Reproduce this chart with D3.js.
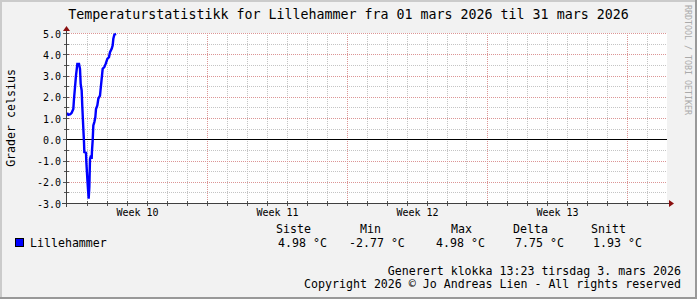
<!DOCTYPE html>
<html><head><meta charset="utf-8">
<script src="https://cdn.jsdelivr.net/npm/d3@7"></script>
<style>html,body{margin:0;padding:0;background:#f2f2f2;overflow:hidden}svg{display:block}</style>
</head><body><svg id="c" width="697" height="299"></svg>
<script>
// ---- data ----
const titleText = "Temperaturstatistikk for Lillehammer fra 01 mars 2026 til 31 mars 2026";
const yLabel = "Grader celsius";
const seriesName = "Lillehammer";
const hours = [0,1.6,4,5.6,7.6,8.4,9.6,10.8,12.4,14.4,15.6,16.4,17.6,18.4,19.6,20.4,20.8,22.8,23.2,24.4,25.2,26,26.8,27.6,28.8,29.6,30,30.8,31.6,32.8,34,34.8,36.4,37.6,39.6,40.4,41.6,42.8,44.8,46.4,48.4,50.4,51.6,53.6,54.8,55.6,56.8,58.8];
const temps = [1.27,1.17,1.2,1.27,1.45,1.93,2.47,3.02,3.57,3.57,3.34,2.63,2.32,1.53,0.51,-0.11,-0.58,-0.61,-1.05,-1.84,-2.31,-2.77,-2.23,-0.90,-0.74,-0.90,-0.51,-0.04,0.67,0.83,1.06,1.45,1.61,1.93,2.08,2.40,2.87,3.34,3.42,3.57,3.81,3.89,4.12,4.28,4.44,4.75,4.94,4.98];
const yMajor = [-3,-2,-1,0,1,2,3,4,5];
const yTickLabels = ["-3.0","-2.0","-1.0","0.0","1.0","2.0","3.0","4.0","5.0"];
const weekLabels = ["Week 10","Week 11","Week 12","Week 13"];
const weekBounds = ["2026-03-01","2026-03-08","2026-03-15","2026-03-22","2026-03-29"];
const statNames = ["Siste","Min","Max","Delta","Snitt"];
const statValues = [4.98,-2.77,4.98,7.75,1.93];
const footer1 = "Generert klokka 13:23 tirsdag 3. mars 2026";
const footer2 = "Copyright 2026 \u00a9 Jo Andreas Lien - All rights reserved";
const watermark = "RRDTOOL / TOBI OETIKER";

// ---- layout ----
const W = 697, H = 299;
const X0 = 67, X1 = 667, Y0 = 203.5, Y1 = 33.5;
const FONT = "'DejaVu Sans Mono', monospace";
const statHeadX = [276, 360, 451, 513, 591];
const statValX = [278, 349, 436, 515, 593];

const svg = d3.select("#c");
const start = new Date(Date.UTC(2026,2,1));
const end = new Date(Date.UTC(2026,2,31));
const x = d3.scaleUtc().domain([start, end]).range([X0, X1]);
const y = d3.scaleLinear().domain([-3, 5]).range([Y0, Y1]);
const px = v => Math.floor(v) + 0.5;

// background + frame
svg.append("rect").attr("width", W).attr("height", H).attr("fill", "#f2f2f2");
svg.append("rect").attr("x", 0).attr("y", 0).attr("width", W).attr("height", 2).attr("fill", "#cbcbcb");
svg.append("rect").attr("x", 0).attr("y", 0).attr("width", 2).attr("height", H).attr("fill", "#cbcbcb");
svg.append("rect").attr("x", W-2).attr("y", 0).attr("width", 2).attr("height", H).attr("fill", "#999");
svg.append("rect").attr("x", 0).attr("y", H-2).attr("width", W).attr("height", 2).attr("fill", "#999");

// plot area
svg.append("rect").attr("x", X0).attr("y", 33).attr("width", X1 - X0).attr("height", 170).attr("fill", "#fff");

const grid = svg.append("g").attr("fill", "none").attr("stroke-width", 1).attr("stroke-dasharray", "1,1");
const yMinor = d3.range(-2.5, 5, 1);
grid.selectAll(".hm").data(yMinor).join("line")
  .attr("x1", X0).attr("x2", X1).attr("y1", d => px(y(d))).attr("y2", d => px(y(d)))
  .attr("stroke", "#c4c4c4");
const days = d3.utcDay.range(d3.utcDay.offset(start, 1), end).filter(d => !weekBounds.includes(d3.utcFormat("%Y-%m-%d")(d)));
grid.selectAll(".vm").data(days).join("line")
  .attr("x1", d => px(x(d))).attr("x2", d => px(x(d))).attr("y1", 33).attr("y2", 203)
  .attr("stroke", "#c4c4c4");
grid.selectAll(".hM").data(yMajor.filter(d => d !== -3)).join("line")
  .attr("x1", X0).attr("x2", X1).attr("y1", d => px(y(d))).attr("y2", d => px(y(d)))
  .attr("stroke", "#dc9595");
const weekDates = weekBounds.slice(1).map(s => new Date(s + "T00:00:00Z"));
grid.selectAll(".vM").data(weekDates).join("line")
  .attr("x1", d => px(x(d))).attr("x2", d => px(x(d))).attr("y1", 33).attr("y2", 203)
  .attr("stroke", "#dc9595");

// small ticks on axes
const tk = svg.append("g").attr("stroke", "#555").attr("stroke-width", 1);
tk.selectAll(".ty").data(d3.range(-3, 5.01, 0.5)).join("line")
  .attr("x1", d => Number.isInteger(d) ? 63 : 64).attr("x2", 69)
  .attr("y1", d => px(y(d))).attr("y2", d => px(y(d)));
tk.selectAll(".tx").data(d3.utcDay.range(d3.utcDay.offset(start, 1), end)).join("line")
  .attr("x1", d => px(x(d))).attr("x2", d => px(x(d))).attr("y1", 201).attr("y2", 206);

// zero line
svg.append("line").attr("x1", X0).attr("x2", X1).attr("y1", px(y(0))).attr("y2", px(y(0)))
  .attr("stroke", "#000").attr("stroke-width", 1);

// data line
const data = hours.map((h, i) => ({ t: new Date(start.getTime() + h * 3600000), v: temps[i] }));
svg.append("path").datum(data)
  .attr("fill", "none").attr("stroke", "#0000ff").attr("stroke-width", 2.4).attr("stroke-linejoin", "miter")
  .attr("d", d3.line().x(d => x(d.t)).y(d => y(d.v)));

// axes lines + arrows
svg.append("line").attr("x1", 62).attr("x2", 670).attr("y1", 203.5).attr("y2", 203.5).attr("stroke", "#404040");
svg.append("line").attr("x1", 66.5).attr("x2", 66.5).attr("y1", 207).attr("y2", 30).attr("stroke", "#404040");
svg.append("path").attr("d", "M669,200 L674,203.5 L669,207 Z").attr("fill", "#8b1010");
svg.append("path").attr("d", "M63,31 L66.5,26 L70,31 Z").attr("fill", "#8b1010");

// y axis labels
const yAx = svg.append("g").attr("transform", `translate(${X0 - 6},0)`)
  .call(d3.axisLeft(y).tickValues(yMajor).tickFormat((d, i) => yTickLabels[i]).tickSize(0).tickPadding(0));
yAx.select(".domain").remove();
yAx.selectAll("text").attr("font-family", FONT).attr("font-size", 10).attr("fill", "#000").attr("dy", "0.36em");

// x axis labels
const mids = weekLabels.map((_, i) => new Date((new Date(weekBounds[i] + "T00:00:00Z").getTime() + new Date(weekBounds[i+1] + "T00:00:00Z").getTime()) / 2));
const xAx = svg.append("g").attr("transform", `translate(0,${216})`)
  .call(d3.axisBottom(x).tickValues(mids).tickFormat((d, i) => weekLabels[i]).tickSize(0).tickPadding(0));
xAx.select(".domain").remove();
xAx.selectAll("text").attr("font-family", FONT).attr("font-size", 10).attr("fill", "#000").attr("dy", 0);

// title
svg.append("text").attr("x", W / 2).attr("y", 19).attr("text-anchor", "middle")
  .attr("font-family", FONT).attr("font-size", 13.3).attr("fill", "#000").text(titleText);

// y label
svg.append("text").attr("transform", `translate(15,118) rotate(-90)`).attr("text-anchor", "middle")
  .attr("font-family", FONT).attr("font-size", 11.6).attr("fill", "#000").text(yLabel);

// watermark
svg.append("text").attr("transform", `translate(685,5) rotate(90)`).attr("text-anchor", "start")
  .attr("font-family", FONT).attr("font-size", 8.3).attr("fill", "#aaa").text(watermark);

// legend
svg.append("rect").attr("x", 15.5).attr("y", 238.5).attr("width", 8).attr("height", 8)
  .attr("fill", "#0000ff").attr("stroke", "#000").attr("stroke-width", 1);
svg.append("text").attr("x", 30).attr("y", 246.5).attr("font-family", FONT).attr("font-size", 11.6).text(seriesName);
svg.selectAll(".sh").data(statNames).join("text")
  .attr("x", (d, i) => statHeadX[i]).attr("y", 233).attr("font-family", FONT).attr("font-size", 11.6).text(d => d);
svg.selectAll(".sv").data(statValues).join("text")
  .attr("x", (d, i) => statValX[i]).attr("y", 246.5).attr("font-family", FONT).attr("font-size", 11.6)
  .text(d => d.toFixed(2) + " \u00b0C");

// footer
svg.append("text").attr("x", 681).attr("y", 274.5).attr("text-anchor", "end").attr("font-family", FONT).attr("font-size", 11.6).text(footer1);
svg.append("text").attr("x", 681).attr("y", 288).attr("text-anchor", "end").attr("font-family", FONT).attr("font-size", 11.6).text(footer2);
</script></body></html>
